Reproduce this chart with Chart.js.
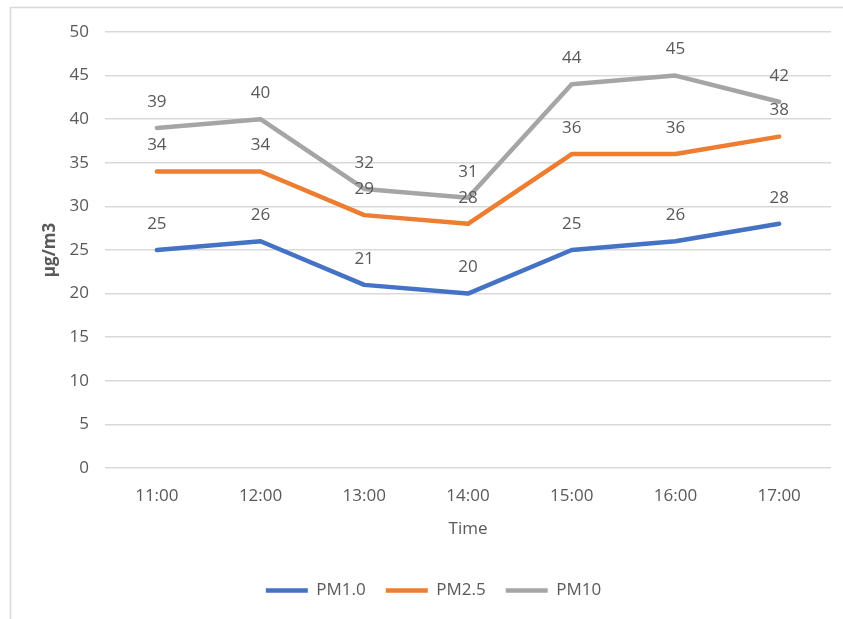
<!DOCTYPE html>
<html>
<head>
<meta charset="utf-8">
<script src="https://cdn.jsdelivr.net/npm/chart.js@4"></script>
<style>
html,body{margin:0;padding:0;background:#fff;}
canvas{display:block;}
</style>
</head>
<body>
<canvas id="c" width="843" height="619"></canvas>
<script>
const categories = ['11:00','12:00','13:00','14:00','15:00','16:00','17:00'];
const pm10Values = [25, 26, 21, 20, 25, 26, 28];
const pm25Values = [34, 34, 29, 28, 36, 36, 38];
const pm100Values = [39, 40, 32, 31, 44, 45, 42];
const seriesNames = ['PM1.0', 'PM2.5', 'PM10'];
const yTicks = [0, 5, 10, 15, 20, 25, 30, 35, 40, 45, 50];

const FONT = "'Open Sans', 'Noto Sans', sans-serif";
const TXT = '#595959';

const frame = {
  id: 'frame',
  beforeDraw(chart) {
    const ctx = chart.ctx;
    ctx.save();
    ctx.fillStyle = '#fff';
    ctx.fillRect(0, 0, chart.width, chart.height);
    ctx.strokeStyle = '#d9d9d9';
    ctx.lineWidth = 1.5;
    ctx.strokeRect(10.5, 7.5, 850, 650);
    ctx.restore();
  }
};

const legendShift = {
  id: 'legendShift',
  afterLayout(chart) {
    if (chart.legend) {
      chart.legend.left += 18;
      chart.legend.right += 18;
    }
  }
};

const dataLabels = {
  id: 'dataLabels',
  afterDatasetsDraw(chart) {
    const ctx = chart.ctx;
    ctx.save();
    ctx.font = '17px ' + FONT;
    ctx.fillStyle = TXT;
    ctx.textAlign = 'center';
    ctx.textBaseline = 'middle';
    chart.data.datasets.forEach((ds, i) => {
      const meta = chart.getDatasetMeta(i);
      meta.data.forEach((pt, j) => {
        ctx.fillText(String(ds.data[j]), pt.x, pt.y - 26);
      });
    });
    ctx.restore();
  }
};

function mk(label, data, color) {
  return {
    label, data,
    borderColor: color, backgroundColor: color,
    borderWidth: 4.5, tension: 0,
    pointRadius: 0, pointHoverRadius: 0,
    borderCapStyle: 'round', borderJoinStyle: 'round',
    pointStyle: 'line'
  };
}

new Chart(document.getElementById('c'), {
  type: 'line',
  data: {
    labels: categories,
    datasets: [
      mk(seriesNames[0], pm10Values, '#4472C4'),
      mk(seriesNames[1], pm25Values, '#ED7D31'),
      mk(seriesNames[2], pm100Values, '#A5A5A5')
    ]
  },
  options: {
    responsive: false,
    animation: false,
    devicePixelRatio: 1,
    layout: { padding: { top: 32, right: 12, left: 0, bottom: 10 } },
    plugins: {
      tooltip: { enabled: false },
      legend: {
        position: 'bottom',
        labels: {
          usePointStyle: true,
          pointStyle: 'line',
          pointStyleWidth: 42,
          boxHeight: 17,
          padding: 20,
          color: TXT,
          font: { family: FONT, size: 17 }
        }
      }
    },
    scales: {
      x: {
        type: 'category',
        offset: true,
        grid: { display: false, drawTicks: false },
        border: { display: false },
        ticks: { color: TXT, padding: 18, font: { family: FONT, size: 17 }, maxRotation: 0 },
        title: { display: true, text: 'Time', color: TXT, font: { family: FONT, size: 17 }, padding: { top: 0, bottom: 23 } },
        afterFit(scale) { scale.height = 94; }
      },
      y: {
        min: 0, max: 50,
        afterBuildTicks(scale) { scale.ticks = yTicks.map(v => ({ value: v })); },
        grid: { color: '#d9d9d9', lineWidth: 1.5, drawTicks: false },
        border: { display: false },
        ticks: { color: TXT, padding: 16, font: { family: FONT, size: 17 } },
        title: { display: true, text: 'µg/m3', color: TXT, font: { family: FONT, size: 17, weight: 'bold' }, padding: { top: 40, bottom: 0 } },
        afterFit(scale) { scale.width = 105; }
      }
    }
  },
  plugins: [frame, legendShift, dataLabels]
});
</script>
</body>
</html>
